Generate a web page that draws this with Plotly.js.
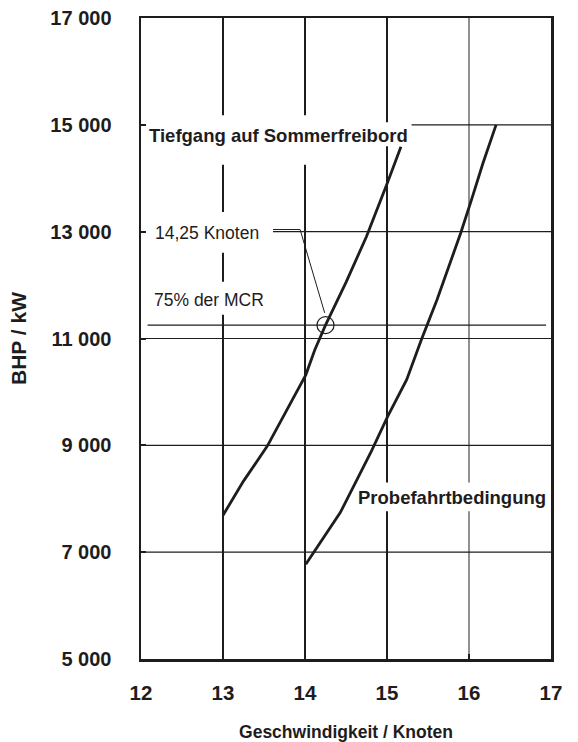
<!DOCTYPE html>
<html>
<head>
<meta charset="utf-8">
<script src="https://cdn.plot.ly/plotly-3.0.1.min.js"></script>
<style>html,body{margin:0;padding:0;background:#fff;}#chart{width:578px;height:742px;}</style>
</head>
<body>
<div id="chart"></div>
<script>
// ---- data ----
const xTickVals = [12, 13, 14, 15, 16, 17];
const xTickText = ['12', '13', '14', '15', '16', '17'];
const yTickVals = [5000, 7000, 9000, 11000, 13000, 15000, 17000];
const yTickText = ['5 000', '7 000', '9 000', '11 000', '13 000', '15 000', '17 000'];

// Tiefgang auf Sommerfreibord (speed in knots, BHP in kW)
const tiefgangSpeed = [13.00, 13.25, 13.54, 13.82, 14.01, 14.12, 14.25, 14.50, 14.75, 15.01, 15.17];
const tiefgangPower = [7690, 8330, 8985, 9795, 10320, 10790, 11250, 12050, 12910, 13935, 14590];

// Probefahrtbedingung
const probeSpeed = [14.01, 14.43, 14.81, 15.01, 15.24, 15.42, 15.61, 15.90, 16.03, 16.17, 16.33];
const probePower = [6775, 7740, 8890, 9545, 10230, 10980, 11725, 12980, 13595, 14280, 15000];

// MCR / operating point
const mcrPower = 15000;
const mcr75Power = 11250;
const mcrLineSpeed = [12.08, 16.94];
const opSpeed = [14.25];
const opPower = [11250];
const leaderSpeed = [13.61, 13.94, 14.24];
const leaderPower = [13040, 13040, 11480];

const ink = '#1e1c1d';
const FONT = 'Liberation Sans, Arial, sans-serif';

const traces = [
  {x: mcrLineSpeed, y: [mcr75Power, mcr75Power], mode: 'lines', line: {color: ink, width: 1.2}, hoverinfo: 'skip', showlegend: false},
  {x: leaderSpeed, y: leaderPower, mode: 'lines', line: {color: ink, width: 1}, hoverinfo: 'skip', showlegend: false},
  {x: tiefgangSpeed, y: tiefgangPower, mode: 'lines', line: {color: ink, width: 2.8}, name: 'Tiefgang auf Sommerfreibord', showlegend: false},
  {x: probeSpeed, y: probePower, mode: 'lines', line: {color: ink, width: 2.8}, name: 'Probefahrtbedingung', showlegend: false},
  {x: opSpeed, y: opPower, mode: 'markers', marker: {symbol: 'circle-open', size: 17, color: ink, line: {width: 1.2, color: ink}}, showlegend: false, hoverinfo: 'skip'}
];

// grid line segments (interrupted behind the labels)
const vGrid = [
  [13, 2, ink, [[5000, 11445], [12061, 12603], [13369, 14253], [15181, 17000]]],
  [14, 2, ink, [[5000, 14253], [15181, 17000]]],
  [15, 2, ink, [[5000, 7765], [8306, 14600], [15050, 17000]]],
  [16, 1.3, '#555555', [[5000, 7765], [8306, 17000]]]
];
const hGrid = [
  [7000, [[12, 17]]],
  [9000, [[12, 17]]],
  [11000, [[12, 17]]],
  [13000, [[13.61, 17]]],
  [15000, [[15.30, 17]]]
];
const shapes = [];
vGrid.forEach(g => g[3].forEach(s => shapes.push({type: 'line', xref: 'x', yref: 'y', x0: g[0], x1: g[0], y0: s[0], y1: s[1], layer: 'below', line: {color: g[2], width: g[1]}})));
hGrid.forEach(g => g[1].forEach(s => shapes.push({type: 'line', xref: 'x', yref: 'y', x0: s[0], x1: s[1], y0: g[0], y1: g[0], layer: 'below', line: {color: ink, width: 1.2}})));

const annotations = [
  {x: 12.07, y: 14807, xref: 'x', yref: 'y', text: 'Tiefgang auf Sommerfreibord', showarrow: false, xanchor: 'left', yanchor: 'middle', font: {family: FONT, size: 18.5, color: ink, weight: 'bold'}},
  {x: 15.79, y: 8026, xref: 'x', yref: 'y', text: 'Probefahrtbedingung', showarrow: false, xanchor: 'center', yanchor: 'middle', font: {family: FONT, size: 18.5, color: ink, weight: 'bold'}},
  {x: 12.15, y: 12976, xref: 'x', yref: 'y', text: '14,25 Knoten', showarrow: false, xanchor: 'left', yanchor: 'middle', font: {family: FONT, size: 17.5, color: ink}},
  {x: 12.13, y: 11725, xref: 'x', yref: 'y', text: '75% der MCR', showarrow: false, xanchor: 'left', yanchor: 'middle', font: {family: FONT, size: 17.5, color: ink}}
];

const layout = {
  width: 578, height: 742,
  margin: {l: 141, r: 27, t: 18, b: 83, pad: 0},
  paper_bgcolor: '#ffffff', plot_bgcolor: '#ffffff',
  showlegend: false,
  font: {family: FONT, color: ink},
  xaxis: {
    range: [12, 17], tickmode: 'array', tickvals: xTickVals, ticktext: xTickText,
    showgrid: false, zeroline: false,
    showline: true, linecolor: ink, linewidth: 2.5, mirror: true,
    ticks: 'inside', ticklen: 5, tickwidth: 2, tickcolor: ink,
    ticklabelstandoff: 14,
    tickfont: {family: FONT, size: 20.5, color: ink, weight: 'bold'},
    title: {text: 'Geschwindigkeit / Knoten', font: {family: FONT, size: 17.5, color: ink, weight: 'bold'}, standoff: 25}
  },
  yaxis: {
    range: [5000, 17000], tickmode: 'array', tickvals: yTickVals, ticktext: yTickText,
    showgrid: false, zeroline: false,
    showline: true, linecolor: ink, linewidth: 2.5, mirror: true,
    ticks: 'inside', ticklen: 5, tickwidth: 2, tickcolor: ink,
    ticklabelstandoff: 23,
    tickfont: {family: FONT, size: 20, color: ink, weight: 'bold'},
    title: {text: 'BHP / kW', font: {family: FONT, size: 21, color: ink, weight: 'bold'}, standoff: 18}
  },
  shapes: shapes,
  annotations: annotations
};

Plotly.newPlot('chart', traces, layout, {displayModeBar: false, staticPlot: true});
</script>
</body>
</html>
